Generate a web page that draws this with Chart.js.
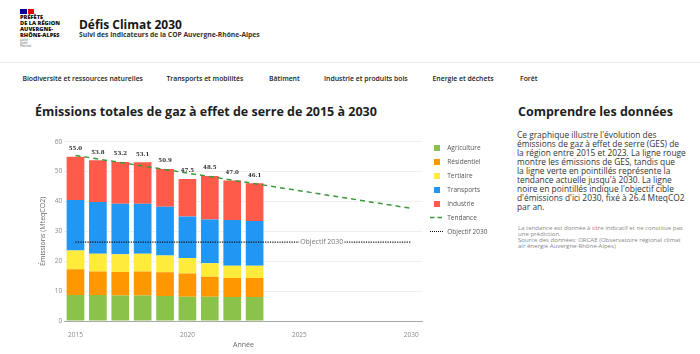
<!DOCTYPE html>
<html lang="fr">
<head>
<meta charset="utf-8">
<title>Défis Climat 2030</title>
<script src="https://cdn.jsdelivr.net/npm/chart.js@4.4.1/dist/chart.umd.min.js"></script>
<style>
  body { margin: 0; width: 700px; height: 354px; background: #fff; font-family: "Open Sans", sans-serif; color: #222; position: relative; overflow: hidden; }
  .abs { position: absolute; white-space: nowrap; }
  .flag-b { position: absolute; left: 20px; top: 9px; width: 6.5px; height: 5px; background: #000091; }
  .flag-r { position: absolute; left: 27.5px; top: 9px; width: 6px; height: 5px; background: #e1000f; }
  .logo-txt { font-weight: 800; font-size: 5px; line-height: 6px; color: #111; }
  .devise { font-style: italic; font-size: 2.6px; line-height: 3px; color: #555; }
  .site-title { font-weight: 700; font-size: 12px; line-height: 14px; color: #161616; }
  .site-sub { font-weight: 700; font-size: 6px; line-height: 8px; color: #333; }
  .sep { position: absolute; left: 0; top: 62px; width: 700px; height: 1px; background: #ececec; }
  .nav { font-weight: 600; font-size: 7px; line-height: 10px; color: #222; top: 74px; }
  .h2 { font-weight: 700; font-size: 12px; line-height: 16px; color: #1e1e1e; top: 104.3px; }
  .para { font-size: 8px; line-height: 9.1px; color: #333; }
  .note { font-size: 5px; line-height: 6.1px; color: #888; }
  #chartBox { position: absolute; left: 0; top: 120px; width: 510px; height: 234px; }
</style>
</head>
<body>

<div class="flag-b"></div><div class="flag-r"></div>
<div class="abs logo-txt" style="left:20px;top:13.7px;" data-w="40">PRÉFÈTE<br>DE LA RÉGION<br>AUVERGNE-<br>RHÔNE-ALPES</div>
<div class="abs devise" style="left:20px;top:39px;">Liberté<br>Égalité<br>Fraternité</div>
<div class="abs site-title" style="left:79px;top:18px;" data-w="103">Défis Climat 2030</div>
<div class="abs site-sub" style="left:79px;top:30.5px;" data-w="181">Suivi des indicateurs de la COP Auvergne-Rhône-Alpes</div>
<div class="sep"></div>

<div class="abs nav" id="nav0" style="left:22.4px;" data-w="120.6">Biodiversité et ressources naturelles</div>
<div class="abs nav" style="left:166.4px;">Transports et mobilités</div>
<div class="abs nav" style="left:269px;">Bâtiment</div>
<div class="abs nav" style="left:324px;">Industrie et produits bois</div>
<div class="abs nav" style="left:432.5px;">Energie et déchets</div>
<div class="abs nav" style="left:520px;">Forêt</div>

<div class="abs h2" style="left:35px;" data-w="342">Émissions totales de gaz à effet de serre de 2015 à 2030</div>
<div class="abs h2" style="left:518px;" data-w="155">Comprendre les données</div>

<div class="abs para" style="left:517px;top:129.7px;" data-w="169">Ce graphique illustre l'évolution des<br>émissions de gaz à effet de serre (GES) de<br>la région entre 2015 et 2023. La ligne rouge<br>montre les émissions de GES, tandis que<br>la ligne verte en pointillés représente la<br>tendance actuelle jusqu'à 2030. La ligne<br>noire en pointillés indique l'objectif cible<br>d'émissions d'ici 2030, fixé à 26.4 MteqCO2<br>par an.</div>
<div class="abs note" style="left:518px;top:225px;" data-w="165">La tendance est donnée à titre indicatif et ne constitue pas<br>une prédiction.<br>Source des données: ORCAE (Observatoire régional climat<br>air énergie Auvergne-Rhône-Alpes)</div>

<div id="chartBox"><canvas id="emissionsChart" width="510" height="234"></canvas></div>

<script>
// données (MteqCO2)
var years = ["2015", "2016", "2017", "2018", "2019", "2020", "2021", "2022", "2023",
             "2024", "2025", "2026", "2027", "2028", "2029", "2030"];
var agriculture = [8.7, 8.7, 8.5, 8.5, 8.4, 8.1, 8.1, 8.0, 8.0];
var residentiel = [8.6, 7.9, 7.9, 8.1, 7.9, 7.8, 6.7, 6.4, 6.4];
var tertiaire   = [6.3, 5.9, 5.9, 5.9, 5.6, 5.2, 4.5, 4.1, 4.1];
var transports  = [16.9, 17.3, 16.9, 16.7, 16.3, 13.9, 14.7, 15.3, 15.0];
var industrie   = [14.5, 14.0, 14.0, 13.9, 12.7, 12.5, 14.5, 13.2, 12.6];
var totals      = [55.0, 53.8, 53.2, 53.1, 50.9, 47.5, 48.5, 47.0, 46.1];
var trendYears = ["2015", "2030"];
var trendValues = [55.4, 37.7];
var objectifYears = ["2015", "2030"];
var objectifValues = [26.4, 26.4];
var objectifLabelYear = "2026";
var yTicks = [0, 10, 20, 30, 40, 50, 60];
var xTicks = ["2015", "2020", "2025", "2030"];

// ajuste la taille des textes à la largeur voulue
document.querySelectorAll("[data-w]").forEach(function (el) {
    var fs = parseFloat(getComputedStyle(el).fontSize);
    el.style.fontSize = (fs * el.dataset.w / el.getBoundingClientRect().width) + "px";
});
var navSize = document.getElementById("nav0").style.fontSize;
document.querySelectorAll(".nav").forEach(function (el) { el.style.fontSize = navSize; });

function boxImage(color) {
    var c = document.createElement("canvas");
    c.width = 6; c.height = 6;
    var g = c.getContext("2d");
    g.fillStyle = color;
    g.fillRect(0, 0, 6, 6);
    return c;
}
function lineImage(color, dash, width) {
    var c = document.createElement("canvas");
    c.width = 14; c.height = 4;
    var g = c.getContext("2d");
    g.strokeStyle = color;
    g.lineWidth = width;
    g.setLineDash(dash);
    g.beginPath(); g.moveTo(0, 1.5); g.lineTo(14, 1.5); g.stroke();
    return c;
}

var barColors = ["#8bc34a", "#ff9800", "#ffeb3b", "#2196f3", "#ff5b4a"];
var trendColor = "#3c9a3c";
var legendIcons = barColors.map(boxImage)
    .concat([lineImage(trendColor, [4.5, 3], 1.5), lineImage("#111", [1, 1], 1)]);

function toPoints(xs, ys) {
    return xs.map(function (x, i) { return { x: x, y: ys[i] }; });
}

var extras = {
    id: "extras",
    beforeLayout: function (chart) {
        var lg = chart.legend;
        if (lg && !lg._fixed) {
            var fit = lg.fit;
            lg.fit = function () { fit.call(this); this.width = 87.5; };
            lg._fixed = true;
        }
    },
    afterLayout: function (chart) {
        chart.legend.top -= 4.45;
    },
    afterDatasetsDraw: function (chart) {
        var ctx = chart.ctx, xs = chart.scales.x, ys = chart.scales.y;
        ctx.save();
        ctx.textAlign = "center";
        ctx.textBaseline = "middle";
        ctx.font = "bold 5.5px 'DejaVu Serif'";
        ctx.fillStyle = "#333";
        totals.forEach(function (v, i) {
            ctx.fillText(v.toFixed(1), xs.getPixelForValue(i), ys.getPixelForValue(v) - 8);
        });
        ctx.font = "7px 'Open Sans'";
        var tx = xs.getPixelForValue(years.indexOf(objectifLabelYear));
        var ty = ys.getPixelForValue(objectifValues[0]);
        var w = ctx.measureText("Objectif 2030").width;
        ctx.fillStyle = "#fff";
        ctx.fillRect(tx - w / 2 - 1, ty - 4, w + 2, 8);
        ctx.fillStyle = "#777";
        ctx.fillText("Objectif 2030", tx, ty);
        ctx.restore();
    }
};

Chart.defaults.font.family = "'Open Sans', sans-serif";

var ctx = document.getElementById("emissionsChart").getContext("2d");
var emissionsChart = new Chart(ctx, {
    type: "bar",
    data: {
        labels: years,
        datasets: [
            { label: "Agriculture", data: agriculture, backgroundColor: barColors[0] },
            { label: "Résidentiel", data: residentiel, backgroundColor: barColors[1] },
            { label: "Tertiaire", data: tertiaire, backgroundColor: barColors[2] },
            { label: "Transports", data: transports, backgroundColor: barColors[3] },
            { label: "Industrie", data: industrie, backgroundColor: barColors[4] },
            { type: "line", label: "Tendance", data: toPoints(trendYears, trendValues), stack: "trend",
              borderColor: trendColor, borderWidth: 1.5, borderDash: [5, 4], pointRadius: 0, order: -1 },
            { type: "line", label: "Objectif 2030", data: toPoints(objectifYears, objectifValues), stack: "goal",
              borderColor: "#111", borderWidth: 1.1, borderDash: [1.2, 1.2], pointRadius: 0, order: -1 }
        ]
    },
    options: {
        responsive: false,
        animation: false,
        layout: { padding: { top: 21.7, right: 0, bottom: 0, left: 0 } },
        datasets: { bar: { barPercentage: 0.79, categoryPercentage: 1 } },
        plugins: {
            tooltip: { enabled: false },
            legend: {
                position: "right",
                align: "start",
                labels: {
                    usePointStyle: true,
                    pointStyleWidth: 14,
                    padding: 7.5,
                    color: "#555",
                    font: { size: 6.5 },
                    sort: function (a, b) { return a.datasetIndex - b.datasetIndex; },
                    generateLabels: function (chart) {
                        var items = Chart.defaults.plugins.legend.labels.generateLabels(chart);
                        items.forEach(function (it) { it.pointStyle = legendIcons[it.datasetIndex]; });
                        return items;
                    }
                }
            }
        },
        scales: {
            x: {
                stacked: true,
                offset: true,
                grid: { display: false },
                border: { color: "#aaa" },
                ticks: {
                    autoSkip: false, maxRotation: 0, padding: 2,
                    color: "#888", font: { size: 6.5 },
                    callback: function (v) { var l = this.getLabelForValue(v); return xTicks.indexOf(l) >= 0 ? l : ""; }
                },
                title: { display: true, text: "Année", color: "#666", font: { size: 7 }, padding: { top: 0, bottom: 4.8 } },
                afterFit: function (s) { s.height = 33; }
            },
            y: {
                stacked: true,
                min: yTicks[0],
                max: yTicks[yTicks.length - 1],
                grid: { color: "#efefef", drawTicks: false },
                border: { display: false },
                ticks: { stepSize: 10, padding: 2, color: "#888", font: { size: 6.5 } },
                afterBuildTicks: function (s) { s.ticks = yTicks.map(function (v) { return { value: v }; }); },
                title: { display: true, text: "Émissions (MteqCO2)", color: "#666", font: { size: 7 }, padding: { top: 38.8, bottom: 0 } },
                afterFit: function (s) { s.width = 64.3; }
            }
        }
    },
    plugins: [extras]
});
</script>
</body>
</html>
